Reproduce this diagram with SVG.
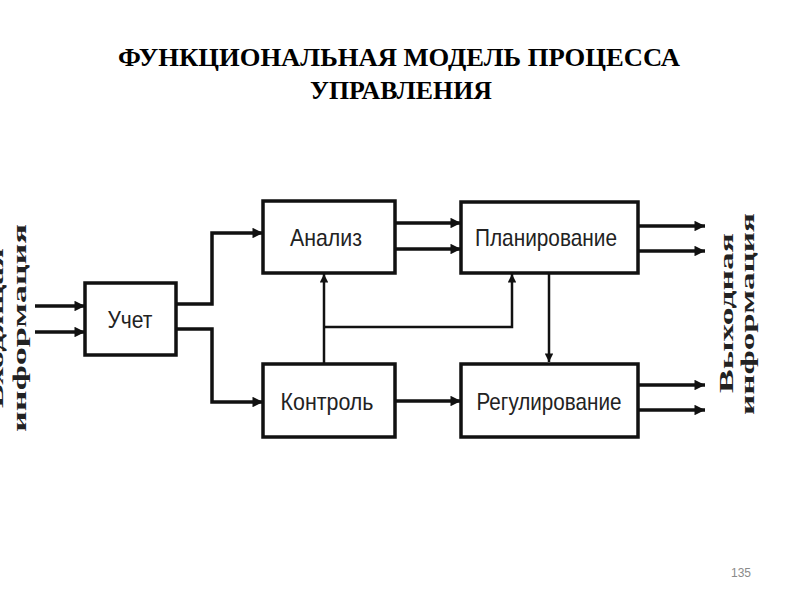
<svg xmlns="http://www.w3.org/2000/svg" width="800" height="600" viewBox="0 0 800 600">
<style>
.box{fill:#fff;stroke:#111;stroke-width:3.5}
.lbl{font-family:"Liberation Sans Narrow","Liberation Sans",Arial,sans-serif;font-size:24px;fill:#222;text-anchor:middle}
.ln{fill:none;stroke:#111;stroke-width:3.5}
.thin{fill:none;stroke:#111;stroke-width:2.5}
.vt{font-family:"Liberation Serif","Times New Roman",serif;font-weight:bold;font-size:18px;fill:#222;text-anchor:middle}
.title{font-family:"Liberation Serif","Times New Roman",serif;font-weight:bold;font-size:25px;fill:#000;text-anchor:middle}
</style>
<defs>
<marker id="ah" viewBox="0 0 10 10" refX="10" refY="5" markerWidth="4" markerHeight="3" orient="auto" markerUnits="strokeWidth">
<path d="M0,0 L10,5 L0,10 z" fill="#111"/>
</marker>
<marker id="ahs" viewBox="0 0 10 10" refX="10" refY="5" markerWidth="4" markerHeight="3.4" orient="auto" markerUnits="strokeWidth">
<path d="M0,0 L10,5 L0,10 z" fill="#111"/>
</marker>
</defs>
<rect width="800" height="600" fill="#fff"/>
<g id="title">
<text class="title" x="399" y="66" textLength="562" lengthAdjust="spacingAndGlyphs">ФУНКЦИОНАЛЬНАЯ МОДЕЛЬ ПРОЦЕССА</text>
<text class="title" x="401" y="99" textLength="182" lengthAdjust="spacingAndGlyphs">УПРАВЛЕНИЯ</text>
</g>
<g id="connectors">
<line class="ln" x1="35" y1="306" x2="85" y2="306" marker-end="url(#ah)"/>
<line class="ln" x1="35" y1="332" x2="85" y2="332" marker-end="url(#ah)"/>
<polyline class="ln" points="176,304 212,304 212,233 263,233" marker-end="url(#ah)"/>
<polyline class="ln" points="176,329 212,329 212,402 263,402" marker-end="url(#ah)"/>
<line class="ln" x1="395" y1="223" x2="461" y2="223" marker-end="url(#ah)"/>
<line class="ln" x1="395" y1="249" x2="461" y2="249" marker-end="url(#ah)"/>
<line class="ln" x1="395" y1="401" x2="461" y2="401" marker-end="url(#ah)"/>
<line class="thin" x1="324" y1="363" x2="324" y2="274" marker-end="url(#ahs)"/>
<polyline class="thin" points="324,327 512,327 512,274" marker-end="url(#ahs)"/>
<line class="thin" x1="549" y1="274" x2="549" y2="362" marker-end="url(#ahs)"/>
<line class="ln" x1="638" y1="226" x2="705" y2="226" marker-end="url(#ah)"/>
<line class="ln" x1="638" y1="251" x2="705" y2="251" marker-end="url(#ah)"/>
<line class="ln" x1="638" y1="385" x2="705" y2="385" marker-end="url(#ah)"/>
<line class="ln" x1="638" y1="410" x2="705" y2="410" marker-end="url(#ah)"/>
</g>
<g id="uchet">
<rect class="box" x="85" y="283" width="91" height="72"/>
<text class="lbl" x="130" y="328" textLength="45" lengthAdjust="spacingAndGlyphs">Учет</text>
</g>
<g id="analiz">
<rect class="box" x="263" y="201" width="132" height="72"/>
<text class="lbl" x="326" y="246" textLength="72" lengthAdjust="spacingAndGlyphs">Анализ</text>
</g>
<g id="kontrol">
<rect class="box" x="263" y="364" width="132" height="73"/>
<text class="lbl" x="327" y="410" textLength="93" lengthAdjust="spacingAndGlyphs">Контроль</text>
</g>
<g id="planirovanie">
<rect class="box" x="461" y="202" width="177" height="71"/>
<text class="lbl" x="546" y="246" textLength="142" lengthAdjust="spacingAndGlyphs">Планирование</text>
</g>
<g id="regulirovanie">
<rect class="box" x="461" y="364" width="177" height="73"/>
<text class="lbl" x="549" y="410" textLength="145" lengthAdjust="spacingAndGlyphs">Регулирование</text>
</g>
<g id="input-label">
<text class="vt" transform="translate(3,328) rotate(-90)" textLength="160" lengthAdjust="spacingAndGlyphs">Входящая</text>
<text class="vt" transform="translate(26,328) rotate(-90)" textLength="208" lengthAdjust="spacingAndGlyphs">информация</text>
</g>
<g id="output-label">
<text class="vt" transform="translate(733,313) rotate(-90)" textLength="160" lengthAdjust="spacingAndGlyphs">Выходная</text>
<text class="vt" transform="translate(754,314) rotate(-90)" textLength="202" lengthAdjust="spacingAndGlyphs">информация</text>
</g>
<text x="741" y="577" font-family="Liberation Sans, Arial, sans-serif" font-size="12" fill="#8a8a8a" text-anchor="middle">135</text>
</svg>
